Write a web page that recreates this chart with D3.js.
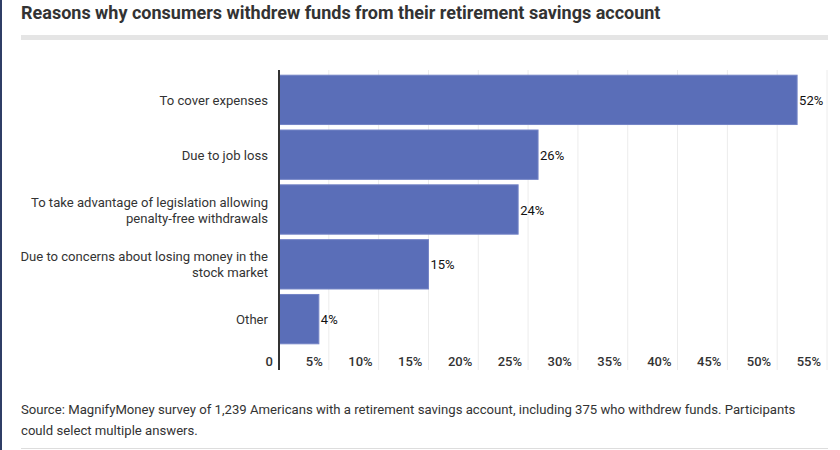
<!DOCTYPE html>
<html>
<head>
<meta charset="utf-8">
<script src="https://cdn.jsdelivr.net/npm/d3@7"></script>
<style>
  html, body { margin: 0; padding: 0; background: #fff; }
  body { width: 840px; height: 450px; overflow: hidden; font-family: Roboto, "Noto Sans", sans-serif; }
</style>
</head>
<body>
<div id="chart"></div>
<script>
// chart data
const categories = [
    ["To cover expenses"],
    ["Due to job loss"],
    ["To take advantage of legislation allowing", "penalty-free withdrawals"],
    ["Due to concerns about losing money in the", "stock market"],
    ["Other"]
];
const values = [52, 26, 24, 15, 4];
const tickValues = [0, 5, 10, 15, 20, 25, 30, 35, 40, 45, 50, 55];
const tickLabels = ["0", "5%", "10%", "15%", "20%", "25%", "30%", "35%", "40%", "45%", "50%", "55%"];

const width = 840, height = 450;
const barColor = "#5a6eb8";

const svg = d3.select("#chart")
    .append("svg")
    .attr("width", width)
    .attr("height", height)
    .style("font-family", "Roboto, 'Noto Sans', sans-serif");

// left border
svg.append("rect")
    .attr("x", 0).attr("y", 0)
    .attr("width", 2).attr("height", height)
    .attr("fill", "#2f3d66");

// Title
svg.append("text")
    .attr("x", 21)
    .attr("y", 19)
    .style("fill", "#333")
    .style("font-size", "18px")
    .style("font-weight", "bold")
    .text("Reasons why consumers withdrew funds from their retirement savings account");

svg.append("rect")
    .attr("x", 21).attr("y", 35)
    .attr("width", 807).attr("height", 5)
    .attr("fill", "#e5e5e5");

const x = d3.scaleLinear()
    .domain([0, 55])
    .range([279, 827]);

const y = d3.scaleBand()
    .domain(d3.range(categories.length))
    .range([73, 346])
    .paddingInner(0.1)
    .paddingOuter(0.04);

const gridTop = 70, gridBottom = 370;

// gridlines
svg.append("g")
    .selectAll("line")
    .data(tickValues.slice(1))
    .enter()
    .append("line")
    .attr("x1", d => x(d))
    .attr("x2", d => x(d))
    .attr("y1", gridTop)
    .attr("y2", gridBottom)
    .attr("stroke", "#ececec")
    .attr("stroke-width", 1);

// tick labels
svg.append("g")
    .selectAll("text")
    .data(tickValues)
    .enter()
    .append("text")
    .attr("x", d => x(d) - 6)
    .attr("y", 366)
    .attr("text-anchor", "end")
    .style("fill", "#333")
    .style("font-size", "13px")
    .style("font-weight", 500)
    .text((d, i) => tickLabels[i]);

// bars
svg.append("g")
    .selectAll("rect")
    .data(values)
    .enter()
    .append("rect")
    .attr("x", x(0))
    .attr("y", (d, i) => y(i))
    .attr("width", d => x(d) - x(0))
    .attr("height", y.bandwidth())
    .attr("fill", barColor)
    .attr("stroke", "#7484c6")
    .attr("stroke-width", 1);

// value labels
svg.append("g")
    .selectAll("text")
    .data(values)
    .enter()
    .append("text")
    .attr("x", d => x(d) + 2)
    .attr("y", (d, i) => y(i) + y.bandwidth() / 2 + 5)
    .style("fill", "#111")
    .style("font-size", "13px")
    .text(d => d + "%");

// category labels
const catG = svg.append("g")
    .selectAll("text")
    .data(categories)
    .enter()
    .append("text")
    .attr("text-anchor", "end")
    .style("fill", "#333")
    .style("font-size", "13.1px");

catG.each(function (lines, i) {
    const cy = y(i) + y.bandwidth() / 2;
    const lh = 16;
    const start = cy - (lines.length - 1) * lh / 2 + 5;
    d3.select(this).selectAll("tspan")
        .data(lines)
        .enter()
        .append("tspan")
        .attr("x", 268)
        .attr("y", (d, j) => start + j * lh)
        .text(d => d);
});

// axis line
svg.append("line")
    .attr("x1", x(0)).attr("x2", x(0))
    .attr("y1", gridTop).attr("y2", gridBottom)
    .attr("stroke", "#333")
    .attr("stroke-width", 2);

// Source
const src = svg.append("text")
    .style("fill", "#333")
    .style("font-size", "13.15px");
src.append("tspan").attr("x", 21).attr("y", 414)
    .text("Source: MagnifyMoney survey of 1,239 Americans with a retirement savings account, including 375 who withdrew funds. Participants");
src.append("tspan").attr("x", 21).attr("y", 435)
    .text("could select multiple answers.");

svg.append("rect")
    .attr("x", 21).attr("y", 448)
    .attr("width", 807).attr("height", 1)
    .attr("fill", "#ddd");
</script>
</body>
</html>
